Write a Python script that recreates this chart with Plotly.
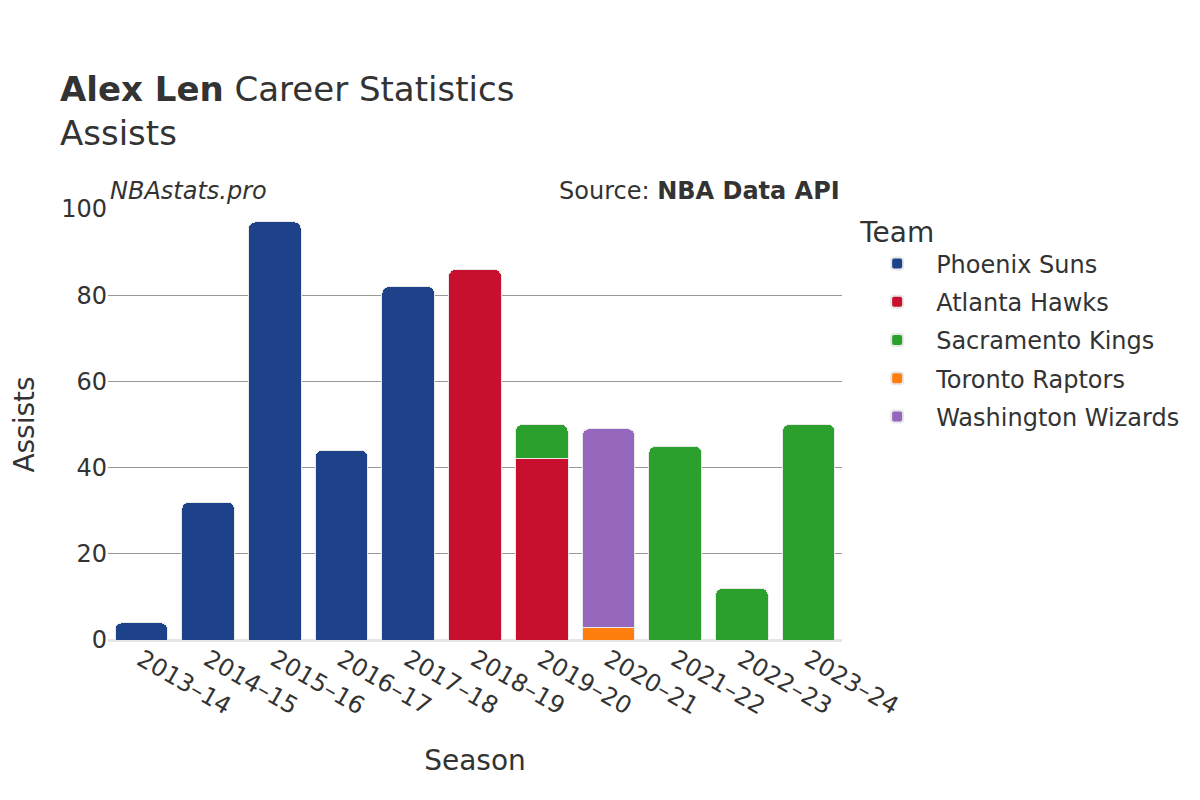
import plotly.graph_objects as go

seasons = ["2013–14", "2014–15", "2015–16", "2016–17", "2017–18", "2018–19",
           "2019–20", "2020–21", "2021–22", "2022–23", "2023–24"]
teams = ["Phoenix Suns", "Atlanta Hawks", "Sacramento Kings", "Toronto Raptors", "Washington Wizards"]
colors = ["#1d428a", "#c8102e", "#2ca02c", "#ff7f0e", "#9467bd"]
phx = [4, 32, 97, 44, 82, None, None, None, None, None, None]
atl = [None, None, None, None, None, 86, 42, None, None, None, None]
sac = [None, None, None, None, None, None, 8, None, 45, 12, 50]
tor = [None, None, None, None, None, None, None, 3, None, None, None]
was = [None, None, None, None, None, None, None, 46, None, None, None]
values = [phx, atl, sac, tor, was]

fig = go.Figure()
for name, col, vals in zip(teams, colors, values):
    fig.add_trace(go.Bar(x=seasons, y=vals, name=name, legendgroup=name, marker_color=col,
                         marker_line=dict(color="#e8e8e8", width=1)))

font = "DejaVu Sans"
fig.update_layout(
    width=1200, height=800,
    barmode="stack", bargap=0.21, barcornerradius=7,
    plot_bgcolor="white", paper_bgcolor="white",
    font=dict(family=font, color="#333333", size=24),
    margin=dict(l=100, r=366, t=201, b=168, autoexpand=False),
    title=dict(text="<b>Alex Len</b> Career Statistics<br>Assists", x=0.0433, xanchor="left",
               y=0.884, yanchor="top", font=dict(size=34, color="#333333")),
    legend=dict(title=dict(text="Team", font=dict(size=28)), x=1.022, y=1.009, xanchor="left", yanchor="top",
                font=dict(size=24), itemsizing="constant", itemwidth=68, tracegroupgap=4,
                traceorder="grouped"),
    xaxis=dict(title=dict(text="Season", font=dict(size=28), standoff=30), tickangle=30,
               tickfont=dict(size=24), showline=False, automargin=False),
    yaxis=dict(title=dict(text="Assists", font=dict(size=28), standoff=22), range=[0, 100],
               tickvals=[0, 20, 40, 60, 80, 100], tickfont=dict(size=24), automargin=False,
               gridcolor="#999999", gridwidth=1, zeroline=True, zerolinecolor="#e5e5e5", zerolinewidth=3),
    annotations=[
        dict(text="<i>NBAstats.pro</i>", xref="paper", yref="paper", x=0, y=1.0, xanchor="left",
             yanchor="bottom", yshift=2, showarrow=False, font=dict(size=24, color="#333333")),
        dict(text="Source: <b>NBA Data API</b>", xref="paper", yref="paper", x=1, y=1.0, xanchor="right",
             yanchor="bottom", yshift=2, showarrow=False, font=dict(size=24, color="#333333")),
    ],
)
fig.write_html("out.html")
